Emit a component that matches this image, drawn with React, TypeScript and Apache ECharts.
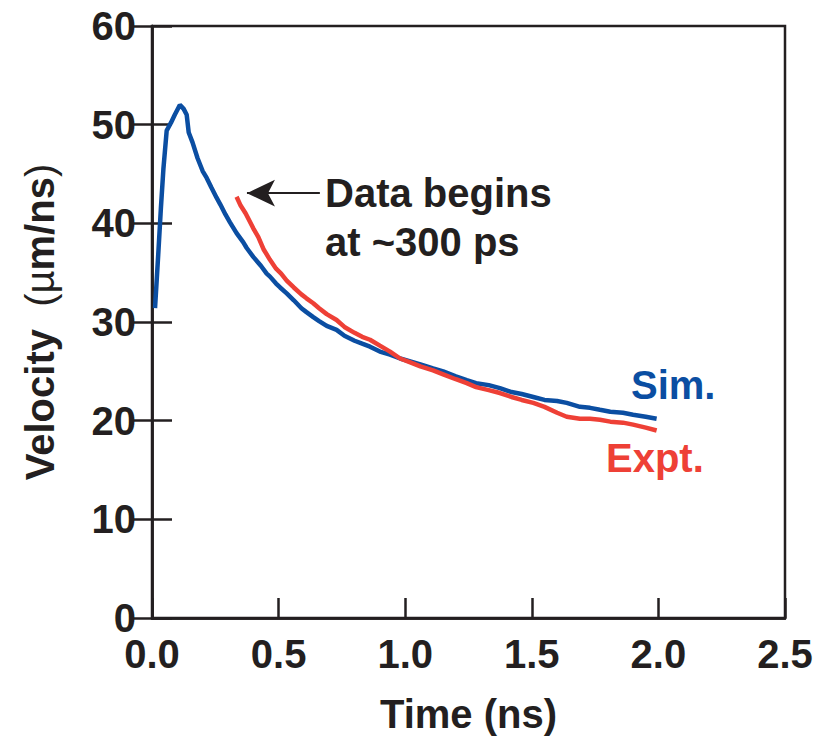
import React, { useEffect, useRef } from "react";
import * as echarts from "echarts";

const simTime = [0.012,0.025,0.035,0.045,0.058,0.075,0.09,0.11,0.125,0.137,0.145,0.16,0.18,0.2,0.216,0.235,0.255,0.27,0.29,0.308,0.334,0.36,0.374,0.4,0.43,0.453,0.466,0.49,0.506,0.532,0.56,0.59,0.61,0.637,0.66,0.69,0.729,0.76,0.8,0.83,0.861,0.9,0.94,0.98,1.02,1.06,1.11,1.15,1.2,1.243,1.28,1.33,1.374,1.42,1.46,1.506,1.55,1.6,1.638,1.69,1.73,1.769,1.81,1.86,1.9,1.95,1.993];
const simVel = [31.4,37.0,41.5,45.5,49.4,50.2,51.0,52.0,51.6,51.0,49.2,48.2,46.6,45.3,44.6,43.6,42.6,41.9,40.9,40.1,39.0,38.1,37.5,36.6,35.7,34.9,34.6,33.9,33.5,32.9,32.2,31.4,31.0,30.5,30.1,29.6,29.2,28.6,28.1,27.8,27.5,27.0,26.7,26.3,26.0,25.7,25.3,25.0,24.5,24.1,23.8,23.6,23.3,22.9,22.7,22.4,22.1,22.0,21.8,21.4,21.3,21.1,20.9,20.8,20.6,20.4,20.2];

const exptTime = [0.334,0.35,0.37,0.4,0.42,0.44,0.466,0.49,0.51,0.532,0.56,0.59,0.61,0.637,0.66,0.69,0.729,0.76,0.8,0.83,0.861,0.9,0.94,0.98,1.02,1.06,1.11,1.15,1.2,1.243,1.28,1.33,1.374,1.42,1.46,1.506,1.55,1.6,1.638,1.69,1.73,1.769,1.81,1.86,1.9,1.95,1.993];
const exptVel = [42.7,41.8,41.0,39.5,38.6,37.4,36.3,35.4,34.9,34.2,33.5,32.8,32.4,31.9,31.4,30.8,30.2,29.5,28.9,28.5,28.2,27.6,27.0,26.3,25.9,25.5,25.1,24.7,24.2,23.8,23.4,23.1,22.8,22.4,22.1,21.8,21.4,20.8,20.4,20.2,20.2,20.1,19.9,19.8,19.6,19.3,19.0];

const xTicks = [0, 0.5, 1.0, 1.5, 2.0, 2.5];
const yTicks = [0, 10, 20, 30, 40, 50, 60];

const arrowFrom = [0.663, 43.06];
const arrowTo = [0.375, 43.06];

const BLUE = "#0b4ea2";
const RED = "#ee4036";
const INK = "#231f20";
const FONT = "'Liberation Sans', Arial, Helvetica, sans-serif";

export default function App() {
  const ref = useRef<HTMLDivElement>(null);
  useEffect(() => {
    if (!ref.current) return;
    const chart = echarts.init(ref.current, null, { renderer: "svg" });
    const simData = simTime.map((t, i) => [t, simVel[i]]);
    const exptData = exptTime.map((t, i) => [t, exptVel[i]]);
    const axisLine = { show: true, lineStyle: { color: INK, width: 2.5 } };
    const tick = { show: true, inside: true, length: 20, lineStyle: { color: INK, width: 2.5 } };
    chart.setOption({
      animation: false,
      backgroundColor: "#ffffff",
      grid: { left: 152, right: 42, top: 26, bottom: 127, show: true, borderColor: INK, borderWidth: 2.5, containLabel: false },
      xAxis: [
        {
          type: "value",
          min: xTicks[0],
          max: xTicks[xTicks.length - 1],
          interval: 0.5,
          position: "bottom",
          axisLine,
          axisTick: tick,
          splitLine: { show: false },
          axisLabel: {
            margin: 16,
            color: INK,
            fontFamily: FONT,
            fontWeight: "bold",
            fontSize: 40,
            formatter: (v: number) => v.toFixed(1),
          },
          name: "Time (ns)",
          nameLocation: "middle",
          nameGap: 76,
          nameTextStyle: { color: INK, fontFamily: FONT, fontWeight: "bold", fontSize: 40 },
        },
        {
          type: "value",
          min: xTicks[0],
          max: xTicks[xTicks.length - 1],
          interval: 0.5,
          position: "top",
          axisLine,
          axisTick: { show: false },
          axisLabel: { show: false },
          splitLine: { show: false },
        },
      ],
      yAxis: [
        {
          type: "value",
          min: yTicks[0],
          max: yTicks[yTicks.length - 1],
          interval: 10,
          position: "left",
          axisLine,
          axisTick: tick,
          splitLine: { show: false },
          axisLabel: {
            margin: 16,
            color: INK,
            fontFamily: FONT,
            fontWeight: "bold",
            fontSize: 40,
          },
          name: "{b|Velocity  }{n|(\u00b5}{b|m/ns}{n|)}",
          nameLocation: "middle",
          nameGap: 92,
          nameTextStyle: {
            color: INK,
            fontFamily: FONT,
            fontSize: 40,
            rich: {
              b: { fontFamily: FONT, fontWeight: "bold", fontSize: 40, color: INK },
              n: { fontFamily: FONT, fontWeight: "normal", fontSize: 40, color: INK },
            },
          },
        },
        {
          type: "value",
          min: yTicks[0],
          max: yTicks[yTicks.length - 1],
          interval: 10,
          position: "right",
          axisLine,
          axisTick: tick,
          axisLabel: { show: false },
          splitLine: { show: false },
        },
      ],
      series: [
        {
          name: "Sim.",
          type: "line",
          data: simData,
          showSymbol: false,
          symbol: "none",
          lineStyle: { color: BLUE, width: 4.5 },
          itemStyle: { color: BLUE },
          z: 3,
        },
        {
          name: "Expt.",
          type: "line",
          data: exptData,
          showSymbol: false,
          symbol: "none",
          lineStyle: { color: RED, width: 4.5 },
          itemStyle: { color: RED },
          z: 4,
          markLine: {
            silent: true,
            symbol: ["none", "arrow"],
            symbolSize: [20, 28],
            label: { show: false },
            lineStyle: { color: INK, width: 2, type: "solid" },
            data: [[{ coord: arrowFrom }, { coord: arrowTo }]],
          },
        },
      ],
      graphic: [
        {
          type: "text",
          x: 325,
          y: 193,
          style: { text: "Data begins", font: `bold 40px ${FONT}`, fill: INK, align: "left", verticalAlign: "middle" },
        },
        {
          type: "text",
          x: 325,
          y: 242,
          style: { text: "at ~300 ps", font: `bold 40px ${FONT}`, fill: INK, align: "left", verticalAlign: "middle" },
        },
        {
          type: "text",
          x: 631,
          y: 385,
          style: { text: "Sim.", font: `bold 40px ${FONT}`, fill: BLUE, align: "left", verticalAlign: "middle" },
        },
        {
          type: "text",
          x: 606,
          y: 458,
          style: { text: "Expt.", font: `bold 40px ${FONT}`, fill: RED, align: "left", verticalAlign: "middle" },
        },
      ],
    });
    return () => chart.dispose();
  }, []);
  return <div ref={ref} style={{ width: 827, height: 745, position: "absolute", left: 0, top: 0 }} />;
}
